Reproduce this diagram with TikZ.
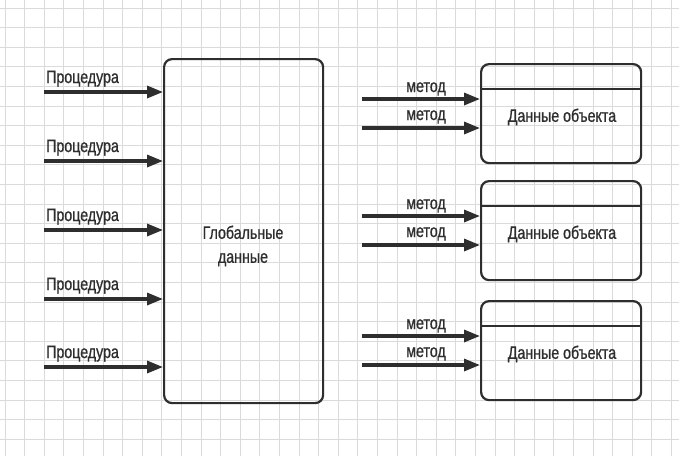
\documentclass[tikz,border=0pt]{standalone}
\usepackage{fontspec}
\setmainfont[FakeStretch=0.79,FakeBold=0.8]{Liberation Sans}
\usetikzlibrary{arrows.meta}
\definecolor{ink}{HTML}{2E2E2E}
\definecolor{gridc}{HTML}{DADADA}
\tikzset{
  gridline/.style={draw=gridc, line width=0.7pt},
  box/.style={draw=ink, line width=2.2pt, rounded corners=8pt},
  arr/.style={draw=ink, line width=3.2pt, -{Triangle[length=16pt,width=12pt]}},
  lbl/.style={text=ink, font=\fontsize{18}{21}\selectfont, inner sep=0pt},
  divider/.style={draw=ink, line width=2pt}
}
\begin{document}
\begin{tikzpicture}[x=1pt,y=-1pt]
\useasboundingbox (0,0) rectangle (679,456);
\fill[white] (0,0) rectangle (679,456);
% grid paper
\foreach \i in {0,...,34} \draw[gridline] ({5+19.6*\i},0) -- ({5+19.6*\i},456);
\foreach \j in {0,...,23} \draw[gridline] (0,{8+19.6*\j}) -- (679,{8+19.6*\j});

% global data box
\node[box, minimum width=159pt, minimum height=344pt, anchor=north west] (glob) at (163,58) {};
\node[lbl, align=center] (globtxt) at (243,246) {Глобальные\\[3pt]данные};

% procedures
\foreach \k/\y in {1/92,2/161,3/230,4/299,5/367}{
  \coordinate (p\k) at (44,\y);
  \draw[arr] (p\k) -- (p\k -| glob.west);
  \node[lbl, anchor=base west] (pl\k) at (46,{\y-9}) {Процедура};
}

% object boxes
\foreach \k/\t in {1/63,2/180,3/300}{
  \node[box, minimum width=160pt, minimum height=99pt, anchor=north west] (obj\k) at (480,\t) {};
  \coordinate (dl\k) at (480,{\t+26});
  \coordinate (dr\k) at (640,{\t+26});
  \draw[divider] (dl\k) -- (dr\k);
  \node[lbl] (ot\k) at (562,{\t+54}) {Данные объекта};
  \coordinate (m\k a) at (362,{\t+36});
  \coordinate (m\k b) at (362,{\t+65});
  \draw[arr] (m\k a) -- (m\k a -| obj\k.west);
  \draw[arr] (m\k b) -- (m\k b -| obj\k.west);
  \node[lbl, anchor=base] (ml\k a) at (426,{\t+29}) {метод};
  \node[lbl, anchor=base] (ml\k b) at (426,{\t+57}) {метод};
}
\end{tikzpicture}
\end{document}
